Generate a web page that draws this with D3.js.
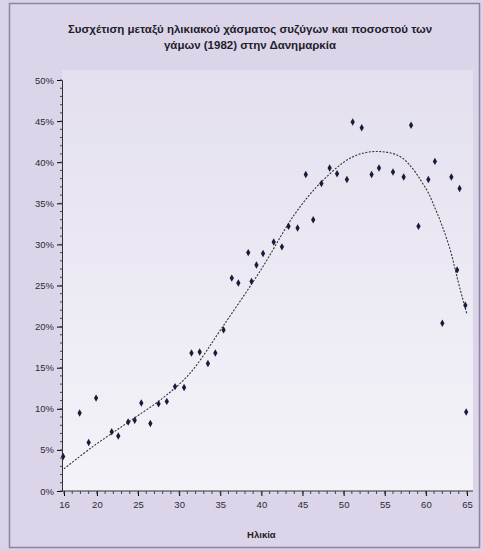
<!DOCTYPE html>
<html><head><meta charset="utf-8">
<script src="https://cdn.jsdelivr.net/npm/d3@7"></script>
<style>body{margin:0;background:#d9d2e8;}svg{display:block;}</style>
</head><body>
<svg id="c" width="483" height="551"></svg>
<script>
const titleLines = ["Συσχέτιση μεταξύ ηλικιακού χάσματος συζύγων και ποσοστού των", "γάμων (1982) στην Δανημαρκία"];
const xTitle = "Ηλικία";
const xTicks = [16, 20, 25, 30, 35, 40, 45, 50, 55, 60, 65];
const yTicks = [0, 5, 10, 15, 20, 25, 30, 35, 40, 45, 50];
const ages = [15.9,17.9,19.0,19.9,21.8,22.6,23.8,24.6,25.4,26.5,27.5,28.5,29.5,30.6,31.5,32.5,33.5,34.4,35.4,36.4,37.2,38.4,38.8,39.4,40.2,41.5,42.5,43.3,44.4,45.4,46.3,47.3,48.3,49.2,50.4,51.1,52.2,53.4,54.3,56.0,57.3,58.2,59.1,60.3,61.1,62.0,63.1,63.8,64.1,64.8,64.9];
const values = [4.2,9.5,5.9,11.3,7.2,6.7,8.4,8.6,10.7,8.2,10.6,10.9,12.7,12.6,16.8,16.9,15.5,16.8,19.6,25.9,25.3,29.0,25.5,27.5,28.9,30.3,29.7,32.2,32.0,38.5,33.0,37.4,39.3,38.6,37.9,44.9,44.2,38.5,39.3,38.8,38.2,44.5,32.2,37.9,40.1,20.4,38.2,26.9,36.8,22.6,9.6];
const trendAges = [16,19.5,23.7,28,31.3,35.3,40,44,47.2,51,54,57,60,61.2,62,63,63.6,64.1,65];
const trendValues = [2.7,5.4,8.3,11.3,14.3,20.0,27,33.6,37.5,40.6,41.3,40.6,36.8,34.2,32.2,29.2,26.8,24.8,21.5];

const svg = d3.select("#c");
const defs = svg.append("defs");
const g1 = defs.append("linearGradient").attr("id","pg").attr("x1",0).attr("y1",0).attr("x2",0).attr("y2",1);
g1.append("stop").attr("offset","0").attr("stop-color","#e4e0ef");
g1.append("stop").attr("offset","1").attr("stop-color","#f4f3f8");

svg.append("rect").attr("x",9.5).attr("y",3.5).attr("width",470).attr("height",544)
  .attr("fill","#dcd5ea").attr("stroke","#8a86a0").attr("stroke-width",1.5);

const L = 62, R = 473, T = 70, B = 491;
svg.append("rect").attr("x",L).attr("y",T).attr("width",R-L).attr("height",B-T).attr("fill","url(#pg)");

const x = d3.scaleLinear().domain([16,65]).range([64,467]);
const y = d3.scaleLinear().domain([0,50]).range([B,80]);

svg.append("g").selectAll("text").data(titleLines).join("text")
  .attr("x",250).attr("y",(d,i)=>33+i*16).attr("text-anchor","middle")
  .attr("font-family","Liberation Sans, Arial, sans-serif").attr("font-weight","bold")
  .attr("font-size",11.5).attr("fill","#1e1e2a").text(d=>d);

const yAxis = d3.axisLeft(y).tickValues(yTicks).tickFormat(d=>d+"%").tickSize(5);
const gy = svg.append("g").attr("transform",`translate(${L},0)`).call(yAxis);
gy.append("g").selectAll("line").data(d3.range(0,51,1)).join("line")
  .attr("x1",-2).attr("x2",0).attr("y1",d=>y(d)).attr("y2",d=>y(d)).attr("stroke","#444");
gy.selectAll("text").attr("font-family","Liberation Sans, Arial, sans-serif").attr("font-size",9.5).attr("fill","#2a2a35");
gy.select(".domain").attr("stroke","#333");

const xAxis = d3.axisBottom(x).tickValues(xTicks).tickSize(5);
const gx = svg.append("g").attr("transform",`translate(0,${B})`).call(xAxis);
gx.append("g").selectAll("line").data(d3.range(16,66,1)).join("line")
  .attr("x1",d=>x(d)).attr("x2",d=>x(d)).attr("y1",0).attr("y2",3).attr("stroke","#444");
gx.selectAll("text").attr("font-family","Liberation Sans, Arial, sans-serif").attr("font-size",9.5).attr("fill","#2a2a35").attr("dy","0.9em");
gx.select(".domain").attr("stroke","#333").attr("d",`M${L},0H${R}`);

svg.append("text").attr("x",x(40)).attr("y",538).attr("text-anchor","middle")
  .attr("font-family","Liberation Sans, Arial, sans-serif").attr("font-weight","bold")
  .attr("font-size",9.5).attr("fill","#222").text(xTitle);

const trend = trendAges.map((a,i)=>[a,trendValues[i]]);
svg.append("path").datum(trend)
  .attr("d", d3.line().x(d=>x(d[0])).y(d=>y(d[1])).curve(d3.curveCatmullRom.alpha(0.5)))
  .attr("fill","none").attr("stroke","#333").attr("stroke-width",1.1).attr("stroke-dasharray","2,1.5");

const pts = ages.map((a,i)=>[a,values[i]]);
svg.append("g").selectAll("path").data(pts).join("path")
  .attr("transform",d=>`translate(${x(d[0])},${y(d[1])})`)
  .attr("d", d3.symbol().type(d3.symbolDiamond).size(16))
  .attr("fill","#1c1a3a");
</script>
</body></html>
